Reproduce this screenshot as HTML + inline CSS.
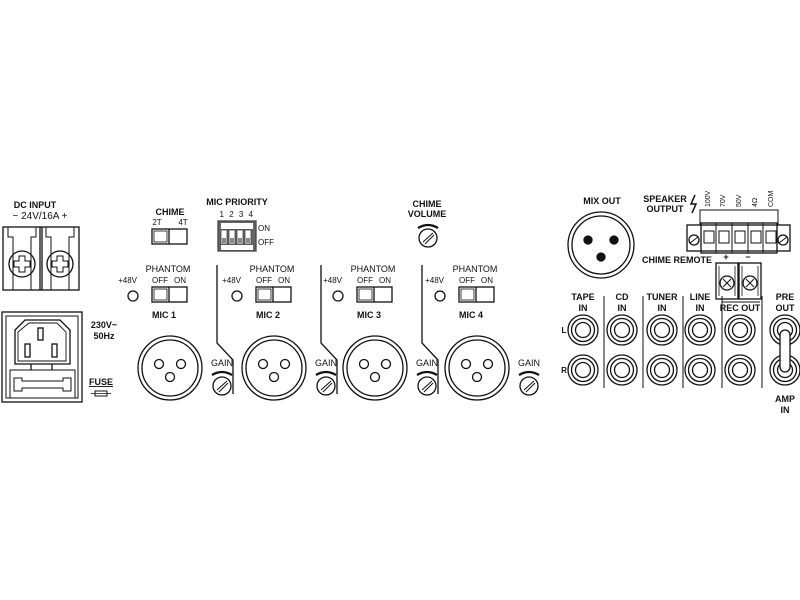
<!DOCTYPE html>
<html><head><meta charset="utf-8"><style>
html,body{margin:0;padding:0;background:#fff;}
svg{display:block;}
text{font-family:"Liberation Sans",sans-serif;fill:#111;}
.b{font-weight:bold;font-size:9px;}
.s{font-size:8px;}
</style></head><body>
<svg width="800" height="600" viewBox="0 0 800 600" xmlns="http://www.w3.org/2000/svg" fill="none" stroke="#111" stroke-width="1.3">
<defs>
<g id="knob"><circle r="9"/><line x1="-5" y1="4" x2="5" y2="-5" stroke-width="1"/><line x1="-3" y1="6" x2="6" y2="-3" stroke-width="1"/></g>
<g id="gainarc"><path d="M-10 3 Q0 -3 10 3" stroke-width="2.2"/></g>
<g id="rca"><circle r="15"/><circle r="11.5"/><circle r="7.5"/></g>
<g id="xlr"><circle r="32"/><circle r="28"/><circle cx="-11" cy="-4" r="4.5"/><circle cx="11" cy="-4" r="4.5"/><circle cx="0" cy="9" r="4.5"/></g>
<g id="sw"><rect x="0" y="0" width="35" height="15"/><line x1="17" y1="0" x2="17" y2="15"/><rect x="2" y="2" width="13" height="11" stroke-width="0.8"/></g>
</defs>

<!-- DC input -->
<g stroke="none">
<text class="b" x="35" y="208" text-anchor="middle">DC INPUT</text>
<text x="40" y="219" text-anchor="middle" style="font-size:10px">− 24V/16A +</text>
</g>
<rect x="3" y="227" width="76" height="63"/>
<line x1="40" y1="227" x2="40" y2="290"/><line x1="42" y1="227" x2="42" y2="290"/>
<path d="M8 227 V237 H13 V290 M36 227 V237 H31 V290" stroke-width="1"/>
<path d="M46 227 V237 H51 V290 M74 227 V237 H69 V290" stroke-width="1"/>
<circle cx="22" cy="264" r="13"/><circle cx="60" cy="264" r="13"/>
<path d="M19 256h6v5h5v6h-5v5h-6v-5h-5v-6h5z" stroke-width="1"/>
<path d="M57 256h6v5h5v6h-5v5h-6v-5h-5v-6h5z" stroke-width="1"/>

<!-- Power -->
<rect x="2" y="312" width="80" height="90"/>
<rect x="6" y="316" width="72" height="82" stroke-width="1"/>
<path d="M25 320 H60 L70 330 V364 H15 V330 Z"/>
<path d="M29 323 H57 L66 332 V361 H18 V332 Z" stroke-width="0.9"/>
<rect x="38" y="328" width="5" height="12"/><rect x="25" y="344" width="5" height="13"/><rect x="52" y="344" width="5" height="13"/>
<path d="M31 364 V370 M52 364 V370"/>
<rect x="10" y="370" width="65" height="28" stroke-width="1"/>
<path d="M14 378 H22 V381 H63 V378 H71 V391 H63 V388 H22 V391 H14 Z" stroke-width="1"/>
<g stroke="none">
<text class="b" x="104" y="328" text-anchor="middle">230V~</text>
<text class="b" x="104" y="339" text-anchor="middle">50Hz</text>
<text class="b" x="101" y="385" text-anchor="middle" style="text-decoration:underline">FUSE</text>
</g>
<rect x="95" y="391" width="12" height="5" stroke-width="1"/><line x1="91" y1="393.5" x2="111" y2="393.5" stroke-width="0.8"/>

<!-- Chime -->
<g stroke="none">
<text class="b" x="170" y="215" text-anchor="middle">CHIME</text>
<text class="s" x="157" y="225" text-anchor="middle">2T</text>
<text class="s" x="183" y="225" text-anchor="middle">4T</text>
</g>
<use href="#sw" x="152" y="229"/>

<!-- Mic priority -->
<g stroke="none">
<text class="b" x="237" y="205" text-anchor="middle">MIC PRIORITY</text>
<text class="s" x="237" y="217" text-anchor="middle" letter-spacing="1.5">1 2 3 4</text>
<text class="s" x="258" y="231">ON</text>
<text class="s" x="258" y="245">OFF</text>
</g>
<rect x="218" y="221" width="38" height="30" fill="#666" stroke="#444"/>
<rect x="221" y="223" width="32" height="6" fill="#fff" stroke="none"/>
<g fill="#fff" stroke="#444" stroke-width="0.8">
<rect x="221" y="230" width="6" height="14"/><rect x="229" y="230" width="6" height="14"/><rect x="237" y="230" width="6" height="14"/><rect x="245" y="230" width="6" height="14"/>
</g>
<g fill="#888" stroke="none"><rect x="222" y="238" width="4" height="5"/><rect x="230" y="238" width="4" height="5"/><rect x="238" y="238" width="4" height="5"/><rect x="246" y="238" width="4" height="5"/></g>
<rect x="221" y="245" width="32" height="5" fill="#fff" stroke="none"/>

<!-- channels -->
<g id="ch1">
<g stroke="none">
<text class="s" x="137" y="283" text-anchor="end">+48V</text>
<text class="s" x="168" y="272" text-anchor="middle" style="font-size:9px">PHANTOM</text>
<text class="s" x="160" y="283" text-anchor="middle">OFF</text>
<text class="s" x="180" y="283" text-anchor="middle">ON</text>
</g>
<circle cx="133" cy="296" r="5"/>
<use href="#sw" x="152" y="287"/>
<use href="#xlr" x="170" y="368"/>
<g stroke="none"><text class="s" x="222" y="366" text-anchor="middle" style="font-size:9px">GAIN</text></g>
<use href="#gainarc" x="222" y="372"/>
<use href="#knob" x="222" y="386"/>
</g>
<use href="#ch1" x="104"/>
<use href="#ch1" x="205"/>
<use href="#ch1" x="307"/>
<g stroke="none">
<text class="b" x="164" y="318" text-anchor="middle">MIC 1</text>
<text class="b" x="268" y="318" text-anchor="middle">MIC 2</text>
<text class="b" x="369" y="318" text-anchor="middle">MIC 3</text>
<text class="b" x="471" y="318" text-anchor="middle">MIC 4</text>
</g>
<path d="M217 265 V343 L233 360 V394"/>
<path d="M321 265 V343 L337 360 V394"/>
<path d="M422 265 V343 L438 360 V394"/>

<!-- chime volume -->
<g stroke="none">
<text class="b" x="427" y="207" text-anchor="middle">CHIME</text>
<text class="b" x="427" y="217" text-anchor="middle">VOLUME</text>
</g>
<use href="#gainarc" x="428" y="225"/>
<use href="#knob" x="428" y="238"/>

<!-- Mix out -->
<g stroke="none"><text class="b" x="602" y="204" text-anchor="middle">MIX OUT</text></g>
<circle cx="601" cy="245" r="33"/><circle cx="601" cy="245" r="29"/>
<g fill="#111"><circle cx="588" cy="240" r="4"/><circle cx="614" cy="240" r="4"/><circle cx="601" cy="257" r="4"/></g>

<!-- Speaker output -->
<g stroke="none">
<text class="b" x="665" y="202" text-anchor="middle">SPEAKER</text>
<text class="b" x="665" y="212" text-anchor="middle">OUTPUT</text>
<text class="s" transform="translate(710,207) rotate(-90)" style="font-size:7px">100V</text>
<text class="s" transform="translate(725,207) rotate(-90)" style="font-size:7px">70V</text>
<text class="s" transform="translate(741,207) rotate(-90)" style="font-size:7px">50V</text>
<text class="s" transform="translate(757,207) rotate(-90)" style="font-size:7px">4Ω</text>
<text class="s" transform="translate(773,207) rotate(-90)" style="font-size:7px">COM</text>
</g>
<path d="M695 195 L691 204 H696 L692 213" stroke-width="1.5"/>
<path d="M700 225 V210 H778 V225" stroke-width="1"/>
<rect x="687" y="225" width="103" height="26"/>
<rect x="701" y="223" width="76" height="30"/>
<g stroke-width="1"><rect x="704" y="231" width="10" height="12"/><rect x="719" y="231" width="10" height="12"/><rect x="735" y="231" width="10" height="12"/><rect x="751" y="231" width="10" height="12"/><rect x="766" y="231" width="10" height="12"/>
<line x1="716" y1="223" x2="716" y2="253"/><line x1="732" y1="223" x2="732" y2="253"/><line x1="748" y1="223" x2="748" y2="253"/><line x1="763" y1="223" x2="763" y2="253"/></g>
<circle cx="694" cy="240" r="5"/><line x1="690" y1="243" x2="698" y2="237" stroke-width="1"/>
<circle cx="783" cy="240" r="5"/><line x1="779" y1="243" x2="787" y2="237" stroke-width="1"/>

<!-- chime remote -->
<g stroke="none">
<text class="b" x="677" y="263" text-anchor="middle">CHIME REMOTE</text>
<text class="b" x="726" y="260" text-anchor="middle">+</text>
<text class="b" x="748" y="260" text-anchor="middle">−</text>
</g>
<rect x="716" y="263" width="22" height="36"/><rect x="739" y="263" width="22" height="36"/>
<path d="M719 266 V296 M735 266 V296 M742 266 V296 M758 266 V296" stroke-width="0.8"/>
<circle cx="727" cy="283" r="7"/><circle cx="750" cy="283" r="7"/>
<path d="M723 279 l8 8 M731 279 l-8 8 M746 279 l8 8 M754 279 l-8 8" stroke-width="1"/>

<!-- RCA -->
<g stroke="none">
<text class="b" x="583" y="300" text-anchor="middle">TAPE</text><text class="b" x="583" y="311" text-anchor="middle">IN</text>
<text class="b" x="622" y="300" text-anchor="middle">CD</text><text class="b" x="622" y="311" text-anchor="middle">IN</text>
<text class="b" x="662" y="300" text-anchor="middle">TUNER</text><text class="b" x="662" y="311" text-anchor="middle">IN</text>
<text class="b" x="700" y="300" text-anchor="middle">LINE</text><text class="b" x="700" y="311" text-anchor="middle">IN</text>
<text class="b" x="740" y="311" text-anchor="middle">REC OUT</text>
<text class="b" x="785" y="300" text-anchor="middle">PRE</text><text class="b" x="785" y="311" text-anchor="middle">OUT</text>
<text class="b" x="564" y="333" text-anchor="middle" style="font-size:8px">L</text>
<text class="b" x="564" y="373" text-anchor="middle" style="font-size:8px">R</text>
<text class="b" x="785" y="402" text-anchor="middle">AMP</text><text class="b" x="785" y="413" text-anchor="middle">IN</text>
</g>
<path d="M604 296 V388 M643 296 V388 M683 296 V388 M722 296 V388 M762 296 V388" stroke-width="1"/>
<path d="M722 302 H760" stroke-width="1"/>
<use href="#rca" x="583" y="330"/><use href="#rca" x="622" y="330"/><use href="#rca" x="662" y="330"/><use href="#rca" x="700" y="330"/><use href="#rca" x="740" y="330"/><use href="#rca" x="785" y="330"/>
<use href="#rca" x="583" y="370"/><use href="#rca" x="622" y="370"/><use href="#rca" x="662" y="370"/><use href="#rca" x="700" y="370"/><use href="#rca" x="740" y="370"/><use href="#rca" x="785" y="370"/>
<rect x="780" y="330" width="10" height="42" rx="5" fill="#fff"/>
</svg>
</body></html>
